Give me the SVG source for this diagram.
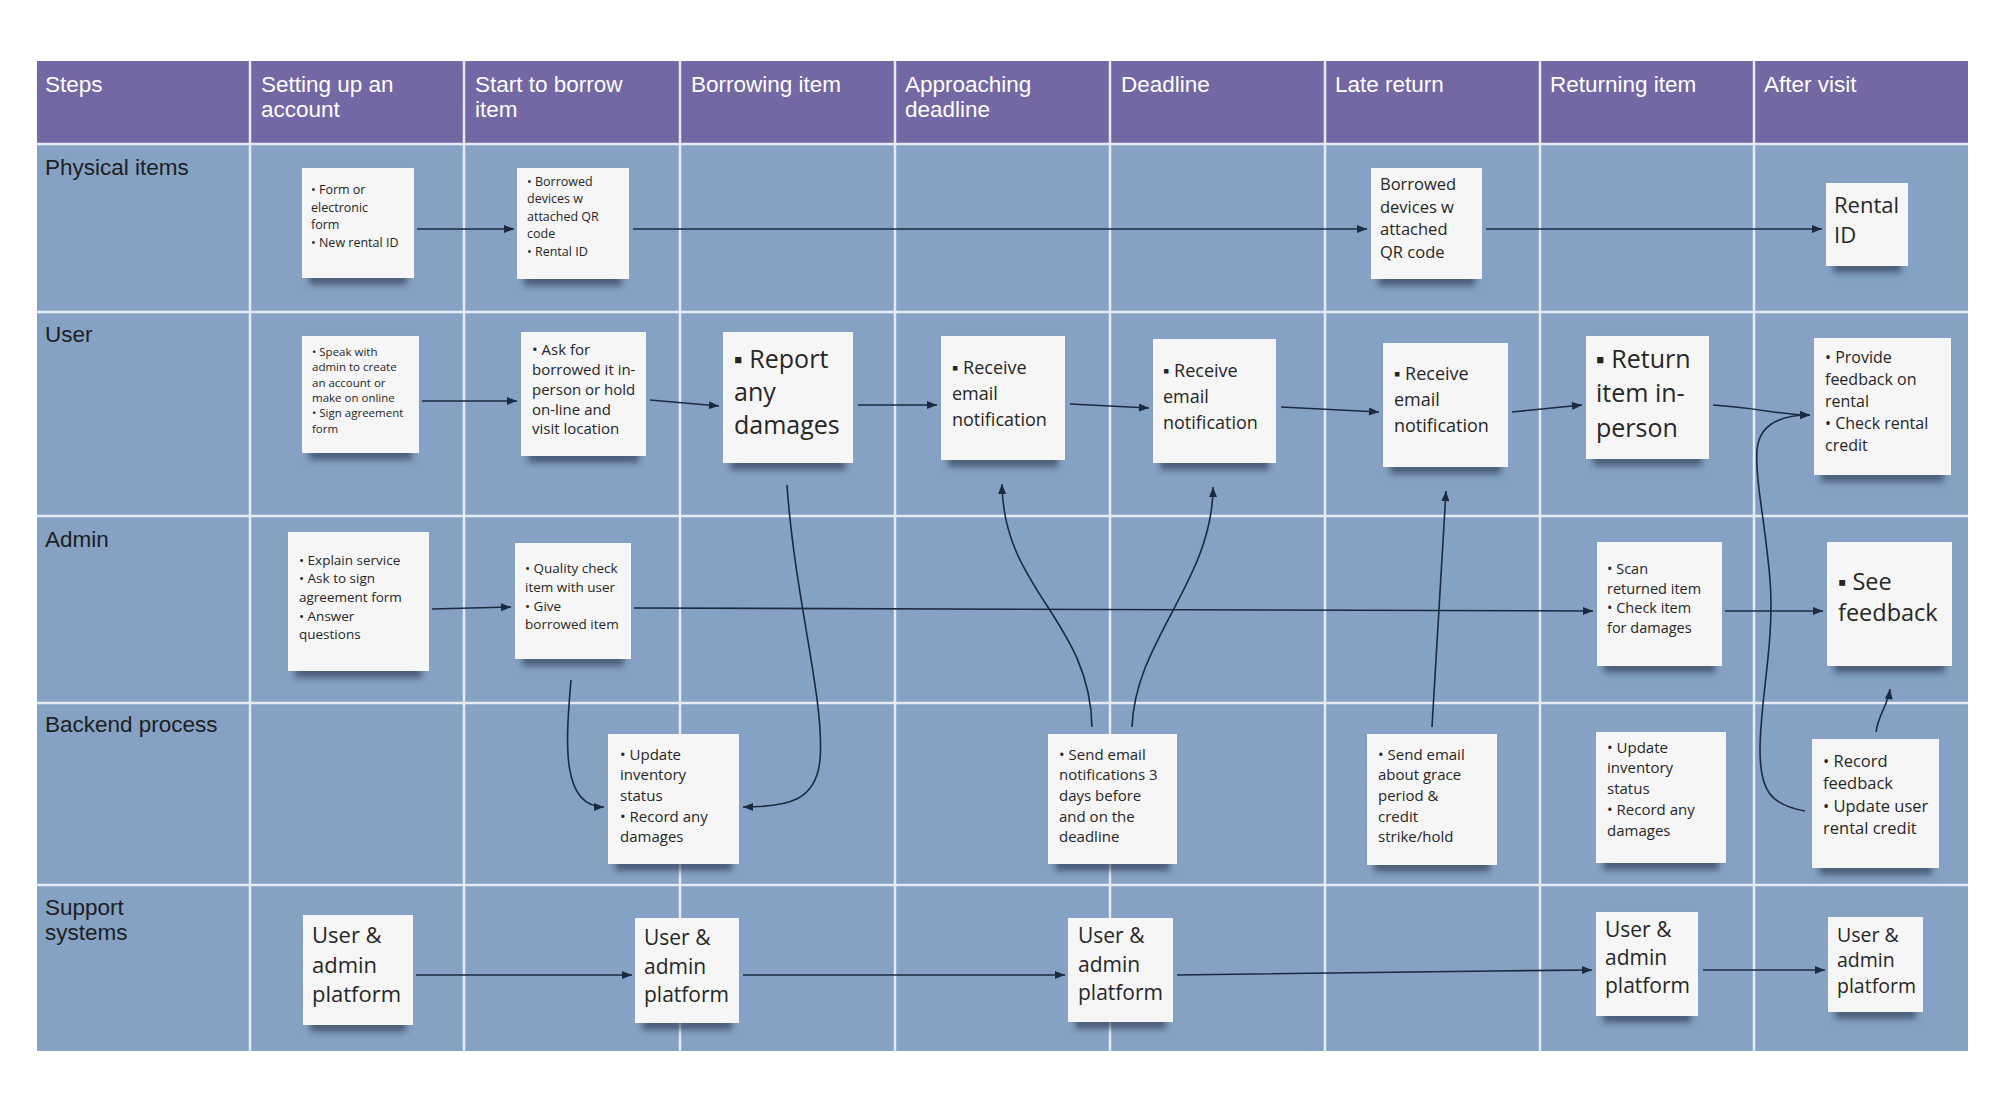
<svg xmlns="http://www.w3.org/2000/svg" width="2000" height="1100" viewBox="0 0 2000 1100">
<style>
.hdr{fill:#7367a4}
.body{fill:#85a2c4}
.grid{stroke:#e4ebf3;stroke-width:2.5;fill:none}
.ht{font-family:"Liberation Sans",Arial,sans-serif;font-size:22.5px;fill:#ffffff}
.rt{font-family:"Liberation Sans",Arial,sans-serif;font-size:22.5px;fill:#1e1e1e}
.note{fill:#f6f6f6;filter:url(#sh)}
.nt{font-family:"Open Sans","Noto Sans",sans-serif;fill:#262626}
.con{fill:none;stroke:#1c2a3f;stroke-width:1.6;marker-end:url(#ah)}
</style>
<defs>
<marker id="ah" viewBox="0 0 10 8" refX="10" refY="4" markerWidth="11" markerHeight="8" markerUnits="userSpaceOnUse" orient="auto">
<path d="M0,0 L10,4 L0,8 Z" fill="#1c2a3f"/>
</marker>
<filter id="sh" x="-10%" y="-10%" width="120%" height="135%">
<feMorphology in="SourceAlpha" operator="erode" radius="7 0" result="e"/>
<feGaussianBlur in="e" stdDeviation="3" result="b"/>
<feOffset in="b" dy="7" result="o"/>
<feFlood flood-color="#26324a" flood-opacity="0.6"/>
<feComposite in2="o" operator="in"/>
<feMerge><feMergeNode/><feMergeNode in="SourceGraphic"/></feMerge>
</filter>
</defs>
<rect width="2000" height="1100" fill="#ffffff"/>
<g id="table">
<rect class="hdr" x="37" y="61" width="1931" height="83"/>
<rect class="body" x="37" y="144" width="1931" height="907"/>
<path class="grid" d="M250,61V1051M464,61V1051M680,61V1051M895,61V1051M1110,61V1051M1325,61V1051M1540,61V1051M1754,61V1051M37,144H1968M37,312H1968M37,516H1968M37,703H1968M37,885H1968"/>
<text class="ht" x="45" y="92">Steps</text>
<text class="ht" x="261" y="92">Setting up an<tspan x="261" dy="25">account</tspan></text>
<text class="ht" x="475" y="92">Start to borrow<tspan x="475" dy="25">item</tspan></text>
<text class="ht" x="691" y="92">Borrowing item</text>
<text class="ht" x="905" y="92">Approaching<tspan x="905" dy="25">deadline</tspan></text>
<text class="ht" x="1121" y="92">Deadline</text>
<text class="ht" x="1335" y="92">Late return</text>
<text class="ht" x="1550" y="92">Returning item</text>
<text class="ht" x="1764" y="92">After visit</text>
<text class="rt" x="45" y="175">Physical items</text>
<text class="rt" x="45" y="342">User</text>
<text class="rt" x="45" y="547">Admin</text>
<text class="rt" x="45" y="732">Backend process</text>
<text class="rt" x="45" y="915">Support<tspan x="45" dy="25">systems</tspan></text>
</g>
<g id="connectors">
<path class="con" d="M417,229 L514,229"/>
<path class="con" d="M633,229 L1367,229"/>
<path class="con" d="M1486,229 L1822,229"/>
<path class="con" d="M422,401 L517,401"/>
<path class="con" d="M650,400 L719,406"/>
<path class="con" d="M858,405 L937,405"/>
<path class="con" d="M1070,404 L1149,408"/>
<path class="con" d="M1281,407 L1379,412"/>
<path class="con" d="M1512,412 L1582,405"/>
<path class="con" d="M1713,405 C1760,408 1780,415 1810,415"/>
<path class="con" d="M432,609 L511,607"/>
<path class="con" d="M634,608 L1593,611"/>
<path class="con" d="M1725,611 L1823,611"/>
<path class="con" d="M571,680 C566,740 560,807 604,807"/>
<path class="con" d="M787,485 C795,600 825,700 820,760 C816,800 790,807 743,807"/>
<path class="con" d="M1092,727 C1090,620 1003,590 1002,484"/>
<path class="con" d="M1132,727 C1135,640 1213,580 1213,487"/>
<path class="con" d="M1432,727 L1446,491"/>
<path class="con" d="M1876,732 C1878,715 1888,705 1890,689"/>
<path class="con" d="M1805,811 C1770,805 1760,790 1760,750 C1760,700 1775,640 1770,580 C1765,520 1755,480 1757,450 C1759,425 1780,415 1810,415"/>
<path class="con" d="M416,975 L632,975"/>
<path class="con" d="M743,975 L1065,975"/>
<path class="con" d="M1177,975 C1300,974 1450,971 1592,970"/>
<path class="con" d="M1703,970 L1825,970"/>
</g>
<g id="P1"><rect class="note" x="302" y="168" width="112" height="110"/><text class="nt" font-size="12.5" x="311" y="194">• Form or<tspan x="311" y="212">electronic</tspan><tspan x="311" y="229">form</tspan><tspan x="311" y="247">• New rental ID</tspan></text></g>
<g id="P2"><rect class="note" x="517" y="168" width="112" height="111"/><text class="nt" font-size="12.5" x="527" y="186">• Borrowed<tspan x="527" y="203">devices w</tspan><tspan x="527" y="221">attached QR</tspan><tspan x="527" y="238">code</tspan><tspan x="527" y="256">• Rental ID</tspan></text></g>
<g id="P3"><rect class="note" x="1371" y="168" width="111" height="111"/><text class="nt" font-size="16.5" x="1380" y="190">Borrowed<tspan x="1380" y="213">devices w</tspan><tspan x="1380" y="235">attached</tspan><tspan x="1380" y="258">QR code</tspan></text></g>
<g id="P4"><rect class="note" x="1826" y="183" width="82" height="83"/><text class="nt" font-size="22" x="1834" y="213">Rental<tspan x="1834" y="243">ID</tspan></text></g>
<g id="U1"><rect class="note" x="302" y="336" width="117" height="117"/><text class="nt" font-size="11.5" x="312" y="356">• Speak with<tspan x="312" y="371">admin to create</tspan><tspan x="312" y="387">an account or</tspan><tspan x="312" y="402">make on online</tspan><tspan x="312" y="417">• Sign agreement</tspan><tspan x="312" y="433">form</tspan></text></g>
<g id="U2"><rect class="note" x="521" y="332" width="125" height="124"/><text class="nt" font-size="15" x="532" y="355">• Ask for<tspan x="532" y="375">borrowed it in-</tspan><tspan x="532" y="395">person or hold</tspan><tspan x="532" y="415">on-line and</tspan><tspan x="532" y="434">visit location</tspan></text></g>
<g id="U3"><rect class="note" x="723" y="332" width="130" height="131"/><text class="nt" font-size="25" x="734" y="368">▪ Report<tspan x="734" y="401">any</tspan><tspan x="734" y="434">damages</tspan></text></g>
<g id="U4"><rect class="note" x="941" y="336" width="124" height="124"/><text class="nt" font-size="18" x="952" y="374">▪ Receive<tspan x="952" y="400">email</tspan><tspan x="952" y="426">notification</tspan></text></g>
<g id="U5"><rect class="note" x="1153" y="339" width="123" height="124"/><text class="nt" font-size="18" x="1163" y="377">▪ Receive<tspan x="1163" y="403">email</tspan><tspan x="1163" y="429">notification</tspan></text></g>
<g id="U6"><rect class="note" x="1383" y="343" width="125" height="124"/><text class="nt" font-size="18" x="1394" y="380">▪ Receive<tspan x="1394" y="406">email</tspan><tspan x="1394" y="432">notification</tspan></text></g>
<g id="U7"><rect class="note" x="1586" y="336" width="123" height="123"/><text class="nt" font-size="25" x="1596" y="368">▪ Return<tspan x="1596" y="402">item in-</tspan><tspan x="1596" y="437">person</tspan></text></g>
<g id="U8"><rect class="note" x="1814" y="338" width="137" height="137"/><text class="nt" font-size="16" x="1825" y="363">• Provide<tspan x="1825" y="385">feedback on</tspan><tspan x="1825" y="407">rental</tspan><tspan x="1825" y="429">• Check rental</tspan><tspan x="1825" y="451">credit</tspan></text></g>
<g id="A1"><rect class="note" x="288" y="532" width="141" height="139"/><text class="nt" font-size="13.5" x="299" y="565">• Explain service<tspan x="299" y="583">• Ask to sign</tspan><tspan x="299" y="602">agreement form</tspan><tspan x="299" y="621">• Answer</tspan><tspan x="299" y="639">questions</tspan></text></g>
<g id="A2"><rect class="note" x="515" y="543" width="116" height="116"/><text class="nt" font-size="13.5" x="525" y="573">• Quality check<tspan x="525" y="592">item with user</tspan><tspan x="525" y="611">• Give</tspan><tspan x="525" y="629">borrowed item</tspan></text></g>
<g id="A3"><rect class="note" x="1597" y="542" width="125" height="124"/><text class="nt" font-size="14.5" x="1607" y="574">• Scan<tspan x="1607" y="594">returned item</tspan><tspan x="1607" y="613">• Check item</tspan><tspan x="1607" y="633">for damages</tspan></text></g>
<g id="A4"><rect class="note" x="1827" y="542" width="125" height="124"/><text class="nt" font-size="23.5" x="1838" y="590">▪ See<tspan x="1838" y="621">feedback</tspan></text></g>
<g id="B1"><rect class="note" x="608" y="734" width="131" height="130"/><text class="nt" font-size="15" x="620" y="760">• Update<tspan x="620" y="780">inventory</tspan><tspan x="620" y="801">status</tspan><tspan x="620" y="822">• Record any</tspan><tspan x="620" y="842">damages</tspan></text></g>
<g id="B2"><rect class="note" x="1048" y="734" width="129" height="130"/><text class="nt" font-size="15" x="1059" y="760">• Send email<tspan x="1059" y="780">notifications 3</tspan><tspan x="1059" y="801">days before</tspan><tspan x="1059" y="822">and on the</tspan><tspan x="1059" y="842">deadline</tspan></text></g>
<g id="B3"><rect class="note" x="1367" y="734" width="130" height="131"/><text class="nt" font-size="15" x="1378" y="760">• Send email<tspan x="1378" y="780">about grace</tspan><tspan x="1378" y="801">period &amp;</tspan><tspan x="1378" y="822">credit</tspan><tspan x="1378" y="842">strike/hold</tspan></text></g>
<g id="B4"><rect class="note" x="1596" y="732" width="130" height="131"/><text class="nt" font-size="15" x="1607" y="753">• Update<tspan x="1607" y="773">inventory</tspan><tspan x="1607" y="794">status</tspan><tspan x="1607" y="815">• Record any</tspan><tspan x="1607" y="836">damages</tspan></text></g>
<g id="B5"><rect class="note" x="1812" y="739" width="127" height="129"/><text class="nt" font-size="16.5" x="1823" y="767">• Record<tspan x="1823" y="789">feedback</tspan><tspan x="1823" y="812">• Update user</tspan><tspan x="1823" y="834">rental credit</tspan></text></g>
<g id="S1"><rect class="note" x="303" y="915" width="110" height="110"/><text class="nt" font-size="22" x="312" y="943">User &amp;<tspan x="312" y="973">admin</tspan><tspan x="312" y="1002">platform</tspan></text></g>
<g id="S2"><rect class="note" x="635" y="918" width="104" height="105"/><text class="nt" font-size="21" x="644" y="945">User &amp;<tspan x="644" y="974">admin</tspan><tspan x="644" y="1002">platform</tspan></text></g>
<g id="S3"><rect class="note" x="1068" y="918" width="105" height="104"/><text class="nt" font-size="21" x="1078" y="943">User &amp;<tspan x="1078" y="972">admin</tspan><tspan x="1078" y="1000">platform</tspan></text></g>
<g id="S4"><rect class="note" x="1596" y="912" width="102" height="104"/><text class="nt" font-size="21" x="1605" y="937">User &amp;<tspan x="1605" y="965">admin</tspan><tspan x="1605" y="993">platform</tspan></text></g>
<g id="S5"><rect class="note" x="1828" y="917" width="95" height="95"/><text class="nt" font-size="19.5" x="1837" y="942">User &amp;<tspan x="1837" y="967">admin</tspan><tspan x="1837" y="993">platform</tspan></text></g>
</svg>
